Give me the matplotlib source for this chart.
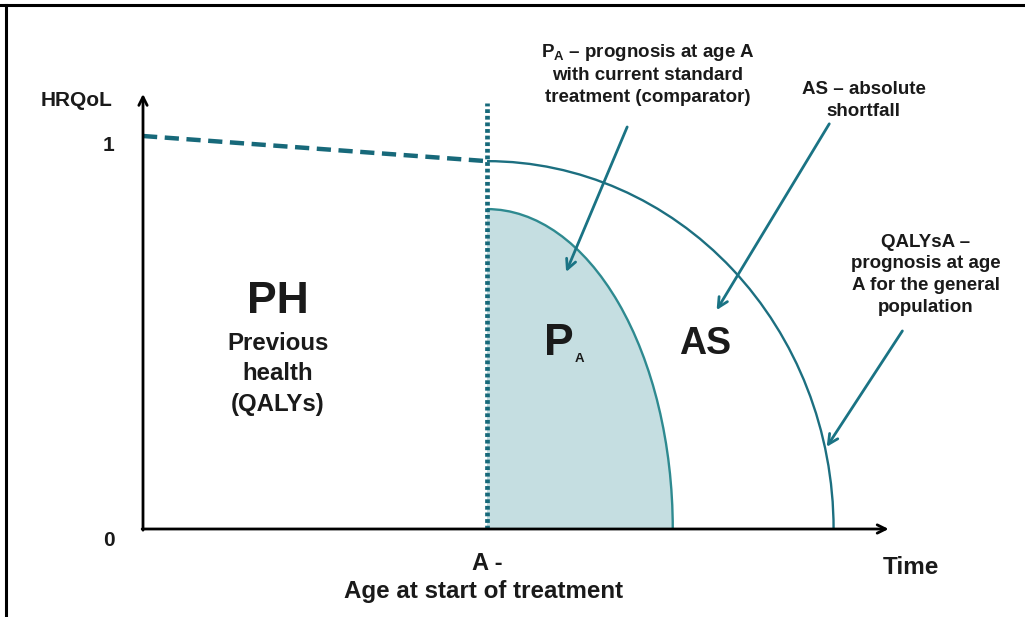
import matplotlib
matplotlib.use("Agg")
import matplotlib.pyplot as plt
from matplotlib.patches import Arc, Ellipse, Rectangle
from matplotlib.lines import Line2D

plt.rcParams['font.family'] = ['Liberation Sans', 'DejaVu Sans']
plt.rcParams['mathtext.fontset'] = 'custom'
plt.rcParams['mathtext.rm'] = 'Liberation Sans'
plt.rcParams['mathtext.bf'] = 'Liberation Sans:bold'
plt.rcParams['mathtext.it'] = 'Liberation Sans:italic'

# ---- data (time units, HRQoL units) ----
age_start = 40.0            # A - age at start of treatment
general_end = 80.3          # end of QALYsA (general population)
pa_end = 61.6               # end of P_A (comparator)
hrqol_prev_start = 1.0      # HRQoL at time 0 (previous health)
hrqol_at_start = 0.936      # HRQoL at age A (general population)
pa_at_start = 0.814         # HRQoL at age A with standard treatment
y_ticks = [0, 1]
y_tick_labels = ["0", "1"]

TEAL = '#17697a'
CURVE = '#1c6f80'
PA_FILL = '#c5dee1'
PA_EDGE = '#2e8a90'
ARROW = '#1a7384'
TXT = '#1a1a1a'

fig = plt.figure(figsize=(10.25, 6.17), dpi=100)
ax = fig.add_axes([0, 0, 1, 1])
ax.set_xlim(-143 / 8.6, (1025 - 143) / 8.6)
ax.set_ylim(-(617 - 529) / 393, 529 / 393)
ax.axis('off')

# border
fig.add_artist(Line2D([0, 1], [1 - 5 / 617, 1 - 5 / 617], color='black', lw=2.2, transform=fig.transFigure))
fig.add_artist(Line2D([6 / 1025, 6 / 1025], [0, 1 - 5 / 617], color='black', lw=2.2, transform=fig.transFigure))

# P_A filled region (quarter ellipse)
clip = Rectangle((age_start, 0), pa_end - age_start + 1, pa_at_start + 0.1, transform=ax.transData,
                 facecolor='none', edgecolor='none')
ax.add_patch(clip)
fill = Ellipse((age_start, 0), 2 * (pa_end - age_start), 2 * pa_at_start,
               facecolor=PA_FILL, edgecolor='none', zorder=1)
ax.add_patch(fill)
fill.set_clip_path(clip)
ax.add_patch(Arc((age_start, 0), 2 * (pa_end - age_start), 2 * pa_at_start,
                 theta1=0, theta2=90, color=PA_EDGE, lw=1.7, zorder=2))

# general population curve
ax.add_patch(Arc((age_start, 0), 2 * (general_end - age_start), 2 * hrqol_at_start,
                 theta1=0, theta2=90, color=CURVE, lw=1.7, zorder=2))

# previous health dashed line
ax.plot([0, age_start], [hrqol_prev_start, hrqol_at_start], color=TEAL, lw=3.2,
        linestyle=(0, (3.2, 1.7)), dash_capstyle='butt', zorder=3)

# dotted vertical line at A
ax.plot([age_start, age_start], [0, 1.084], color=TEAL, lw=3.4,
        linestyle=(0, (0.8, 0.6)), dash_capstyle='butt', zorder=3)

# axes with arrows
ax.annotate('', xy=(0, 1.107), xytext=(0, -0.003),
            arrowprops=dict(arrowstyle='->,head_length=0.6,head_width=0.3', color='black', lw=2.0,
                            shrinkA=0, shrinkB=0), zorder=4)
ax.annotate('', xy=(86.7, 0), xytext=(-0.1, 0),
            arrowprops=dict(arrowstyle='->,head_length=0.6,head_width=0.3', color='black', lw=2.0,
                            shrinkA=0, shrinkB=0), zorder=4)

# tick labels
for yv, lab in zip(y_ticks, y_tick_labels):
    ax.text(-4.0, yv - 0.025 if yv else yv - 0.028, lab, ha='center', va='center',
            fontsize=15, fontweight='bold', color=TXT)
ax.text(-3.6, 1.090, "HRQoL", ha='right', va='center', fontsize=15, fontweight='bold', color=TXT)
ax.text(89.3, -0.099, "Time", ha='center', va='center', fontsize=17.5, fontweight='bold', color=TXT)
ax.text(age_start, -0.089, "A -", ha='center', va='center', fontsize=17, fontweight='bold', color=TXT)
ax.text(age_start - 0.35, -0.160, "Age at start of treatment", ha='center', va='center',
        fontsize=17.4, fontweight='bold', color=TXT)

# region labels
ax.text(15.7, 0.578, "PH", ha='center', va='center', fontsize=32, fontweight='bold', color=TXT)
ax.text(15.7, 0.395, "Previous\nhealth\n(QALYs)", ha='center', va='center', fontsize=17.3,
        fontweight='bold', color=TXT, linespacing=1.42)
ax.text(48.4, 0.471, "P", ha='center', va='center', fontsize=32, fontweight='bold', color=TXT)
ax.text(50.7, 0.433, "A", ha='center', va='center', fontsize=9.5, fontweight='bold', color=TXT)
ax.text(65.4, 0.470, "AS", ha='center', va='center', fontsize=27, fontweight='bold', color=TXT)

# annotations with arrows
akw = dict(ha='center', va='center', fontsize=13.5, fontweight='bold', color=TXT, linespacing=1.36)
arw = dict(arrowstyle='->,head_length=0.7,head_width=0.35', color=ARROW, lw=2.0, shrinkA=0, shrinkB=0)

ax.text(58.7, 1.158, r"$\mathbf{P_A}$ – prognosis at age A" + "\nwith current standard\ntreatment (comparator)", **akw)
ax.annotate('', xy=(49.2, 0.654), xytext=(56.3, 1.023), arrowprops=arw)

ax.text(83.8, 1.090, "AS – absolute\nshortfall", **akw)
ax.annotate('', xy=(66.7, 0.557), xytext=(79.8, 1.031), arrowprops=arw)

ax.text(91.0, 0.647, "QALYsA –\nprognosis at age\nA for the general\npopulation", **akw)
ax.annotate('', xy=(79.5, 0.209), xytext=(88.3, 0.504), arrowprops=arw)

fig.savefig("out.png", dpi=100)
